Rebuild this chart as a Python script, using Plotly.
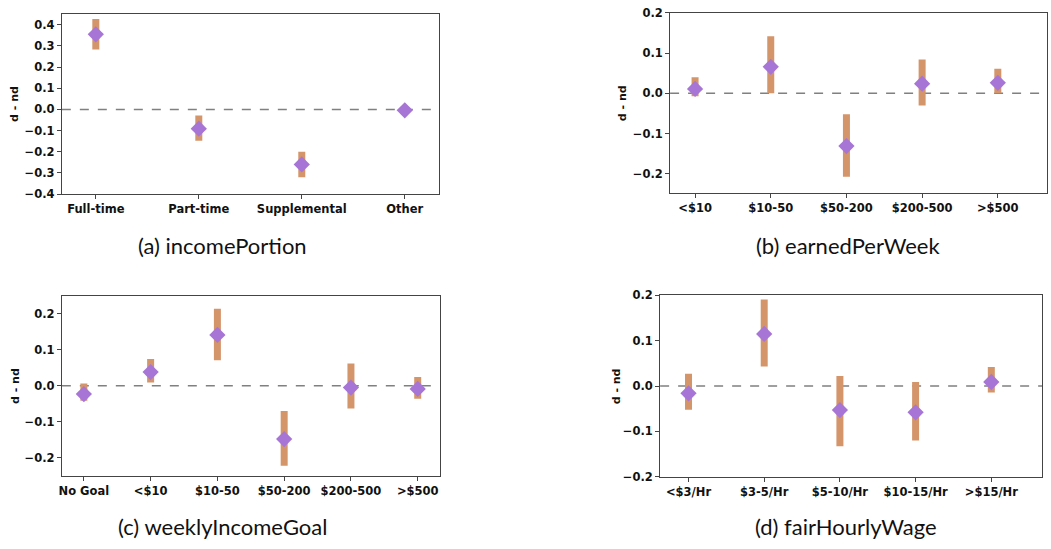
import plotly.graph_objects as go

# ---- data ----
income_cats = ["Full-time", "Part-time", "Supplemental", "Other"]
income_val = [0.355, -0.091, -0.260, -0.004]
income_lo = [0.283, -0.148, -0.320, -0.010]
income_hi = [0.427, -0.028, -0.200, 0.002]

earned_cats = ["<$10", "$10-50", "$50-200", "$200-500", ">$500"]
earned_val = [0.011, 0.066, -0.131, 0.024, 0.026]
earned_lo = [-0.007, 0.000, -0.207, -0.030, 0.000]
earned_hi = [0.040, 0.142, -0.052, 0.084, 0.061]

goal_cats = ["No Goal", "<$10", "$10-50", "$50-200", "$200-500", ">$500"]
goal_val = [-0.023, 0.038, 0.141, -0.148, -0.005, -0.009]
goal_lo = [-0.042, 0.009, 0.071, -0.222, -0.063, -0.036]
goal_hi = [0.006, 0.074, 0.214, -0.070, 0.062, 0.024]

wage_cats = ["<$3/Hr", "$3-5/Hr", "$5-10/Hr", "$10-15/Hr", ">$15/Hr"]
wage_val = [-0.016, 0.115, -0.053, -0.058, 0.009]
wage_lo = [-0.052, 0.043, -0.133, -0.120, -0.014]
wage_hi = [0.027, 0.191, 0.022, 0.009, 0.042]

captions = ["(a) incomePortion", "(b) earnedPerWeek", "(c) weeklyIncomeGoal", "(d) fairHourlyWage"]

# ---- styles ----
BAR = "#D4956B"
DIAMOND = "#A775D6"
W, H = 1051, 549

panels = [
    dict(cats=income_cats, val=income_val, lo=income_lo, hi=income_hi,
         xdom=(59, 437), ydom=(7, 192), yrange=(-0.4, 0.452), xrange=(-0.33, 3.33),
         tickvals=[-0.4, -0.3, -0.2, -0.1, 0.0, 0.1, 0.2, 0.3, 0.4], ytitle_x=12, cap=(220, 245)),
    dict(cats=earned_cats, val=earned_val, lo=earned_lo, hi=earned_hi,
         xdom=(669, 1047), ydom=(6, 191), yrange=(-0.248, 0.2), xrange=(-0.33, 4.65),
         tickvals=[-0.2, -0.1, 0.0, 0.1, 0.2], ytitle_x=622, cap=(847, 245)),
    dict(cats=goal_cats, val=goal_val, lo=goal_lo, hi=goal_hi,
         xdom=(59, 438), ydom=(297, 481), yrange=(-0.25, 0.248), xrange=(-0.33, 5.33),
         tickvals=[-0.2, -0.1, 0.0, 0.1, 0.2], ytitle_x=12, cap=(220, 533)),
    dict(cats=wage_cats, val=wage_val, lo=wage_lo, hi=wage_hi,
         xdom=(659, 1042), ydom=(296, 482), yrange=(-0.2, 0.2), xrange=(-0.375, 4.67),
         tickvals=[-0.2, -0.1, 0.0, 0.1, 0.2], ytitle_x=615, cap=(845, 533)),
]

fig = go.Figure()
tickfont = dict(family="DejaVu Sans", size=11.5, color="#111", weight="bold")
annotations = []
shapes = []
for i, p in enumerate(panels):
    n = "" if i == 0 else str(i + 1)
    xa, ya = "x" + n, "y" + n
    xs = list(range(len(p["cats"])))
    plus = [h - v for h, v in zip(p["hi"], p["val"])]
    minus = [v - l for v, l in zip(p["val"], p["lo"])]
    fig.add_trace(go.Scatter(
        x=xs, y=p["val"], mode="markers", xaxis=xa, yaxis=ya, showlegend=False,
        marker=dict(symbol="diamond", size=12.5, color=DIAMOND),
        error_y=dict(type="data", symmetric=False, array=plus, arrayminus=minus,
                     color=BAR, thickness=7, width=0),
    ))
    xd = (p["xdom"][0] / W, p["xdom"][1] / W)
    yd = (1 - p["ydom"][1] / H, 1 - p["ydom"][0] / H)
    axis_common = dict(showline=True, linecolor="#444", linewidth=1, mirror=True,
                       ticks="outside", ticklen=4, tickcolor="#444", showgrid=False,
                       zeroline=False, tickfont=tickfont)
    fig.update_layout(**{
        ("xaxis" + n): dict(domain=xd, range=list(p["xrange"]), tickvals=xs,
                            ticktext=p["cats"], anchor=ya, **axis_common),
        ("yaxis" + n): dict(domain=yd, range=list(p["yrange"]), tickvals=p["tickvals"],
                            tickformat=".1f", anchor=xa, **axis_common),
    })
    shapes.append(dict(type="line", xref=xa + " domain", yref=ya, x0=0, x1=1, y0=0, y1=0,
                       line=dict(color="#808080", width=1.5, dash="dash"), layer="below"))
    annotations.append(dict(text="d - nd", textangle=-90, xref="paper", yref="paper",
                            x=p["ytitle_x"] / W, y=(yd[0] + yd[1]) / 2, showarrow=False,
                            xanchor="center", yanchor="middle",
                            font=dict(family="DejaVu Sans", size=11, color="#111", weight="bold")))
    annotations.append(dict(text=captions[i], xref="paper", yref="paper",
                            x=p["cap"][0] / W, y=1 - p["cap"][1] / H, showarrow=False,
                            xanchor="center", yanchor="middle",
                            font=dict(family="Lato", size=22, color="#111")))

fig.update_layout(width=W, height=H, margin=dict(l=0, r=0, t=0, b=0),
                  plot_bgcolor="white", paper_bgcolor="white",
                  annotations=annotations, shapes=shapes)
fig.write_html("out.html", config={"displayModeBar": False},
               post_script="document.body.style.margin='0';document.body.style.overflow='hidden';")
